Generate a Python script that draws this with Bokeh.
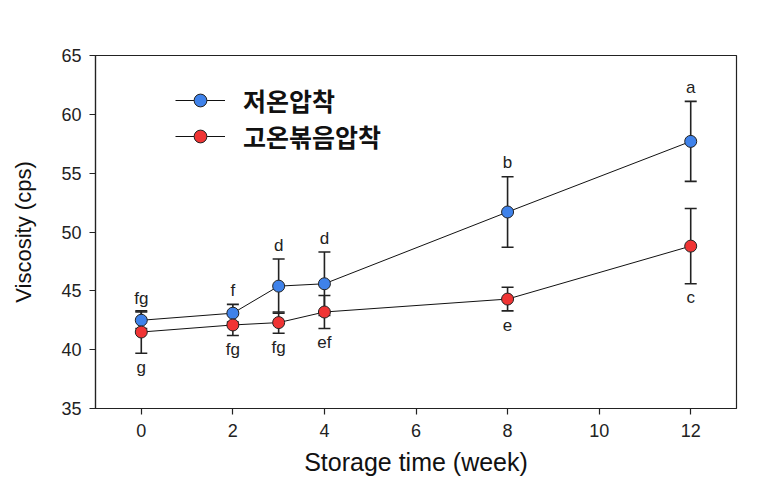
from bokeh.plotting import figure
from bokeh.models import (ColumnDataSource, Whisker, TeeHead, FixedTicker, Range1d,
                          Legend, LegendItem)
from bokeh.core.properties import value
from bokeh.embed import file_html
from bokeh.resources import INLINE

# ---- data ----
weeks = [0, 2, 3, 4, 8, 12]
cold_mean = [42.5, 43.1, 45.4, 45.6, 51.7, 57.7]
cold_err = [0.7, 0.75, 2.3, 2.7, 3.0, 3.4]
cold_letters = ["fg", "f", "d", "d", "b", "a"]
roast_mean = [41.5, 42.1, 42.3, 43.2, 44.3, 48.8]
roast_err = [1.8, 0.9, 0.9, 1.4, 1.0, 3.2]
roast_letters = ["g", "fg", "fg", "ef", "e", "c"]
series_names = ["저온압착", "고온볶음압착"]
x_ticks = [0, 2, 4, 6, 8, 10, 12]
y_ticks = [35, 40, 45, 50, 55, 60, 65]

FONT = "Liberation Sans"

p = figure(frame_width=641, frame_height=353, min_border_left=95, min_border_top=55,
           min_border_right=25, min_border_bottom=66,
           x_range=Range1d(-1, 13), y_range=Range1d(35, 65),
           output_backend="svg", toolbar_location=None)

p.xgrid.visible = False
p.ygrid.visible = False
p.outline_line_color = "#222222"
p.outline_line_width = 1.2

for ax in (p.xaxis[0], p.yaxis[0]):
    ax.axis_line_color = "#222222"
    ax.axis_line_width = 1.2
    ax.major_tick_line_color = "#222222"
    ax.major_tick_line_width = 1.2
    ax.major_tick_in = 0
    ax.major_tick_out = 6
    ax.minor_tick_line_color = None
    ax.major_label_text_font = FONT
    ax.major_label_text_font_size = "18px"
    ax.major_label_text_color = "#222222"
    ax.axis_label_text_font = FONT
    ax.axis_label_text_font_style = "normal"
    ax.axis_label_text_color = "#111111"

p.xaxis.ticker = FixedTicker(ticks=x_ticks)
p.yaxis.ticker = FixedTicker(ticks=y_ticks)
p.xaxis.axis_label = "Storage time (week)"
p.yaxis.axis_label = "Viscosity (cps)"
p.xaxis.axis_label_text_font_size = "25px"
p.yaxis.axis_label_text_font_size = "22px"
p.xaxis.major_label_standoff = 9
p.yaxis.major_label_standoff = 8
p.xaxis.axis_label_standoff = 8
p.yaxis.axis_label_standoff = 22

colors = ["#3f82ea", "#f03434"]
items = []
for name, mean, err, letters, col, sign in [
        (series_names[0], cold_mean, cold_err, cold_letters, colors[0], 1),
        (series_names[1], roast_mean, roast_err, roast_letters, colors[1], -1)]:
    upper = [m + e for m, e in zip(mean, err)]
    lower = [m - e for m, e in zip(mean, err)]
    src = ColumnDataSource(dict(x=weeks, y=mean, upper=upper, lower=lower,
                                ly=upper if sign > 0 else lower, lab=letters))
    ln = p.line("x", "y", source=src, line_color="#111111", line_width=1)
    wh = Whisker(source=src, base="x", upper="upper", lower="lower",
                 line_color="#222222", line_width=1.6,
                 upper_head=TeeHead(size=12, line_color="#222222", line_width=1.6),
                 lower_head=TeeHead(size=12, line_color="#222222", line_width=1.6))
    p.add_layout(wh)
    sc = p.scatter("x", "y", source=src, size=12, fill_color=col,
                   line_color="#222222", line_width=1)
    p.text("x", "ly", text="lab", source=src, text_font=value(FONT),
           text_font_size="17px", text_color="#222222", text_align="center",
           text_baseline="middle", y_offset=-14 if sign > 0 else 14)
    items.append(LegendItem(label=name, renderers=[ln, sc]))

legend = Legend(items=items, location=(80, 254), padding=0, margin=0, spacing=0,
                glyph_width=50, glyph_height=32, label_standoff=18,
                label_text_font="Noto Sans CJK KR", label_text_font_size="25px",
                label_text_font_style="bold", label_text_color="#111111",
                border_line_alpha=0, background_fill_alpha=0)
p.add_layout(legend)

open("out.html", "w").write(file_html(p, INLINE))
